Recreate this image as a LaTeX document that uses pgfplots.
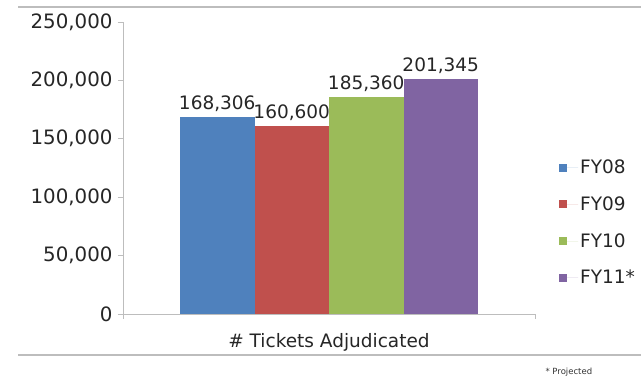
\documentclass[border=0pt]{standalone}
\usepackage{pgfplots}
\pgfplotsset{compat=1.18}
\usepackage{fontspec}
\setmainfont{DejaVu Sans}
\definecolor{cA}{HTML}{4F81BD}
\definecolor{cB}{HTML}{C0504D}
\definecolor{cC}{HTML}{9BBB59}
\definecolor{cD}{HTML}{8064A2}
\definecolor{frame}{HTML}{BDBDBD}
\pgfplotsset{sq/.style={legend image code/.code={\path (0pt,0pt) -- (19pt,0pt);\fill[##1] (0pt,-4pt) rectangle (8pt,4pt);}}}
\newcommand{\lbl}{\fontsize{18.5}{21}\selectfont}
\newcommand{\tlbl}{\fontsize{19.8}{22}\selectfont}
\begin{document}
\begin{tikzpicture}[x=1pt,y=1pt]
\useasboundingbox (0,0) rectangle (641,380);
\fill[white] (0,0) rectangle (641,380);
\draw[line width=1.6pt, frame] (18,373) -- (641,373);
\draw[line width=1.6pt, frame] (18,25) -- (641,25);
\begin{axis}[
  at={(123pt,66pt)}, anchor=south west,
  scale only axis, width=412pt, height=292pt,
  xmin=-1, xmax=1, ymin=0, ymax=250000,
  ytick={0,50000,100000,150000,200000,250000},
  yticklabels={0,{50,000},{100,000},{150,000},{200,000},{250,000}},
  xtick={-1,1}, xticklabels={},
  axis x line*=bottom, axis y line*=left,
  axis line style={draw=frame, line width=0.8pt},
  tick style={draw=frame, line width=0.8pt},
  major tick length=5pt,
  tick align=outside,
  scaled y ticks=false,
  yticklabel style={font=\tlbl, text=black!85, xshift=-2pt},
  xlabel={\# Tickets Adjudicated},
  xlabel style={at={(axis description cs:0.5,0)}, anchor=center, yshift=-28pt, font=\lbl, text=black!85},
  ybar,
  bar width=74.5pt,
  point meta=explicit symbolic,
  nodes near coords,
  nodes near coords style={font=\lbl, text=black!85, anchor=south, yshift=2pt},
  legend style={at={(1.051,0.542)}, anchor=north west, draw=none, fill=none, font=\lbl, text=black!85, row sep=17.5pt},
  legend cell align=left,
]
\addplot[fill=cA, draw=none, bar shift=-111.75pt, sq] coordinates {(0,168306) [{168,306}]};
\addplot[fill=cB, draw=none, bar shift=-37.25pt, sq] coordinates {(0,160600) [{160,600}]};
\addplot[fill=cC, draw=none, bar shift=37.25pt, sq] coordinates {(0,185360) [{185,360}]};
\addplot[fill=cD, draw=none, bar shift=111.75pt, sq] coordinates {(0,201345) [{201,345}]};
\legend{FY08,FY09,FY10,FY11*}
\end{axis}
\node[anchor=west, font=\fontsize{8.5}{9}\selectfont, text=black!80] at (542,8) {* Projected};
\end{tikzpicture}
\end{document}
